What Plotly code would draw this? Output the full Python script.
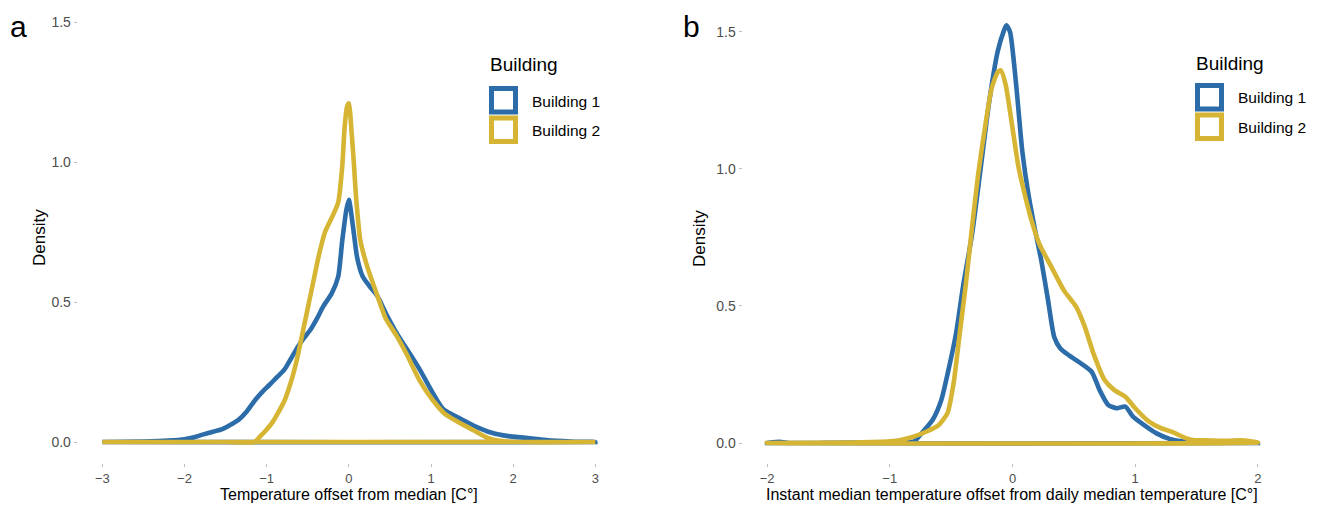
import plotly.graph_objects as go

# ---------------- data ----------------
a_b1_x = [-3.0, -2.5, -2.2, -2.0, -1.85, -1.70, -1.55, -1.45, -1.34, -1.24, -1.14, -1.05, -0.98,
          -0.88, -0.78, -0.70, -0.62, -0.55, -0.47, -0.39, -0.31, -0.21, -0.13, -0.08, -0.03, 0.0,
          0.05, 0.10, 0.17, 0.25, 0.35, 0.45, 0.58, 0.71, 0.86, 1.02, 1.15, 1.33, 1.53, 1.74, 1.94,
          2.15, 2.40, 2.70, 3.0]
a_b1_y = [0.0, 0.002, 0.005, 0.010, 0.020, 0.033, 0.045, 0.060, 0.080, 0.110, 0.150, 0.180, 0.200,
          0.230, 0.260, 0.300, 0.340, 0.370, 0.400, 0.440, 0.485, 0.530, 0.590, 0.720, 0.830, 0.865,
          0.770, 0.660, 0.590, 0.557, 0.520, 0.460, 0.390, 0.330, 0.260, 0.176, 0.117, 0.087, 0.057,
          0.033, 0.021, 0.015, 0.007, 0.002, 0.0]

a_b2_x = [-3.0, -1.5, -1.15, -1.08, -1.0, -0.93, -0.85, -0.78, -0.72, -0.67, -0.62, -0.57, -0.52,
          -0.47, -0.42, -0.37, -0.29, -0.21, -0.13, -0.08, -0.05, -0.02, 0.0, 0.035, 0.06, 0.09,
          0.14, 0.22, 0.35, 0.45, 0.58, 0.71, 0.86, 1.02, 1.17, 1.38, 1.53, 1.69, 1.84, 2.05, 3.0]
a_b2_y = [0.0, 0.0, 0.0, 0.020, 0.045, 0.070, 0.110, 0.150, 0.200, 0.250, 0.310, 0.380, 0.450,
          0.520, 0.590, 0.660, 0.750, 0.800, 0.855, 0.986, 1.130, 1.200, 1.210, 1.100, 1.000, 0.867,
          0.720, 0.630, 0.520, 0.440, 0.380, 0.310, 0.220, 0.150, 0.100, 0.063, 0.040, 0.015, 0.004,
          0.0, 0.0]

b_b1_x = [-2.0, -1.9, -1.8, -1.3, -0.9, -0.8, -0.74, -0.65, -0.58, -0.53, -0.46, -0.40, -0.33,
          -0.26, -0.19, -0.12, -0.07, -0.05, -0.02, 0.03, 0.08, 0.13, 0.18, 0.235, 0.29, 0.34, 0.39,
          0.46, 0.56, 0.645, 0.71, 0.78, 0.85, 0.92, 0.98, 1.07, 1.17, 1.28, 1.38, 1.48, 2.0]
b_b1_y = [0.0, 0.004, 0.0, 0.002, 0.0, 0.006, 0.036, 0.085, 0.157, 0.250, 0.400, 0.580, 0.760,
          1.000, 1.245, 1.430, 1.505, 1.524, 1.500, 1.306, 1.064, 0.907, 0.786, 0.665, 0.520, 0.387,
          0.345, 0.320, 0.290, 0.260, 0.193, 0.139, 0.127, 0.133, 0.097, 0.066, 0.036, 0.015, 0.006,
          0.002, 0.0]

b_b2_x = [-2.0, -1.3, -1.0, -0.9, -0.8, -0.70, -0.60, -0.53, -0.48, -0.43, -0.38, -0.33, -0.28,
          -0.225, -0.17, -0.12, -0.095, -0.055, 0.0, 0.05, 0.10, 0.15, 0.22, 0.32, 0.42, 0.52, 0.59,
          0.66, 0.75, 0.83, 0.92, 1.0, 1.11, 1.21, 1.31, 1.41, 1.48, 1.58, 1.75, 1.86, 2.0]
b_b2_y = [0.0, 0.002, 0.006, 0.012, 0.024, 0.042, 0.066, 0.109, 0.218, 0.400, 0.580, 0.786, 0.980,
          1.149, 1.294, 1.354, 1.360, 1.306, 1.149, 1.004, 0.907, 0.820, 0.725, 0.640, 0.556, 0.496,
          0.423, 0.326, 0.230, 0.193, 0.169, 0.127, 0.079, 0.054, 0.039, 0.018, 0.010, 0.010, 0.008,
          0.010, 0.002]

series_names = ["Building 1", "Building 2"]
series_colors = ["#2B6CA9", "#D5B533"]
a_xticks = [-3, -2, -1, 0, 1, 2, 3]
b_xticks = [-2, -1, 0, 1, 2]
y_ticks = [0.0, 0.5, 1.0, 1.5]
a_xtitle = "Temperature offset from median [C°]"
b_xtitle = "Instant median temperature offset from daily median temperature [C°]"
y_title = "Density"
legend_title = "Building"
panel_letters = ["a", "b"]

# ---------------- layout helpers ----------------
# the page body has an 8px default margin, so the figure is placed at (8, 8)
OFF = 8
W, H = 1318 - OFF, 505 - OFF
def px(x):
    return (x - OFF) / W
def py(y):
    return 1 - (y - OFF) / H

FONT = "Liberation Sans, Arial, sans-serif"
TICK_COL = "#4D4D4D"

fig = go.Figure()

def closed(xs, ys):
    # density outline drawn as a closed polygon (curve + baseline)
    return list(xs) + [xs[0]], list(ys) + [0.0]

panels = [
    ("x", "y", [(a_b1_x, a_b1_y), (a_b2_x, a_b2_y)]),
    ("x2", "y2", [(b_b1_x, b_b1_y), (b_b2_x, b_b2_y)]),
]
for xa, ya, series in panels:
    for (xs, ys), name, col in zip(series, series_names, series_colors):
        cx, cy = closed(xs, ys)
        fig.add_trace(go.Scatter(x=cx, y=cy, mode="lines", name=name, xaxis=xa, yaxis=ya,
                                 line=dict(color=col, width=4.6, shape="spline", smoothing=0.6),
                                 showlegend=False, hoverinfo="skip"))

ydom = [py(463), py(13.6)]
base_axis = dict(showgrid=False, zeroline=False, showline=False, ticks="outside",
                 tickcolor="#BDBDBD", tickwidth=1, automargin=False)
xfont = dict(family=FONT, size=13, color=TICK_COL)
yfont = dict(family=FONT, size=14, color=TICK_COL)

fig.update_layout(
    width=W, height=H,
    margin=dict(l=0, r=0, t=0, b=0),
    paper_bgcolor="white", plot_bgcolor="white",
    showlegend=False,
    xaxis=dict(domain=[px(77.7), px(620)], range=[-3.3, 3.3], tickvals=a_xticks,
               ticklen=3, anchor="y", tickfont=xfont, **base_axis),
    yaxis=dict(domain=ydom, range=[-0.075, 1.53], tickvals=y_ticks, tickformat=".1f",
               ticklen=3, anchor="x", tickfont=yfont, **base_axis),
    xaxis2=dict(domain=[px(742.5), px(1282.5)], range=[-2.2, 2.2], tickvals=b_xticks,
                ticklen=3, anchor="y2", tickfont=xfont, **base_axis),
    yaxis2=dict(domain=ydom, range=[-0.073, 1.567], tickvals=y_ticks, tickformat=".1f",
                ticklen=3, anchor="x2", tickfont=yfont, **base_axis),
)

annotations = []
shapes = []
# axis titles
for cx, txt in [(349, a_xtitle), (1012, b_xtitle)]:
    annotations.append(dict(x=px(cx), y=0.0, xref="paper", yref="paper", text=txt,
                            showarrow=False, xanchor="center", yanchor="bottom",
                            font=dict(family=FONT, size=16, color="black")))
for cx in [40, 700]:
    annotations.append(dict(x=px(cx), y=py(238), xref="paper", yref="paper", text=y_title,
                            showarrow=False, textangle=-90, xanchor="center", yanchor="middle",
                            font=dict(family=FONT, size=17, color="black")))
# panel letters (anchored to the top edge so they are not clipped)
for cx, letter in zip([18, 691], panel_letters):
    annotations.append(dict(x=px(cx), y=1.0, xref="paper", yref="paper", text=letter,
                            showarrow=False, xanchor="center", yanchor="top",
                            font=dict(family=FONT, size=30, color="black")))
# legends (drawn by hand to get ggplot-like outlined keys)
for lx, ty, sy in [(489, 65, 86), (1195, 64, 83)]:
    annotations.append(dict(x=px(lx - 1), y=py(ty), xref="paper", yref="paper", text=legend_title,
                            showarrow=False, xanchor="left", yanchor="middle",
                            font=dict(family=FONT, size=19, color="black")))
    for i, (name, col) in enumerate(zip(series_names, series_colors)):
        top = sy + i * 29.5
        shapes.append(dict(type="rect", xref="paper", yref="paper",
                           x0=px(lx + 2.5), x1=px(lx + 26.5),
                           y0=py(top + 2.5), y1=py(top + 26.0),
                           line=dict(color=col, width=5), fillcolor="white"))
        annotations.append(dict(x=px(lx + 41), y=py(top + 15), xref="paper", yref="paper",
                                text=name, showarrow=False, xanchor="left", yanchor="middle",
                                font=dict(family=FONT, size=15.5, color="black")))

fig.update_layout(annotations=annotations, shapes=shapes)
fig.write_html("out.html")
